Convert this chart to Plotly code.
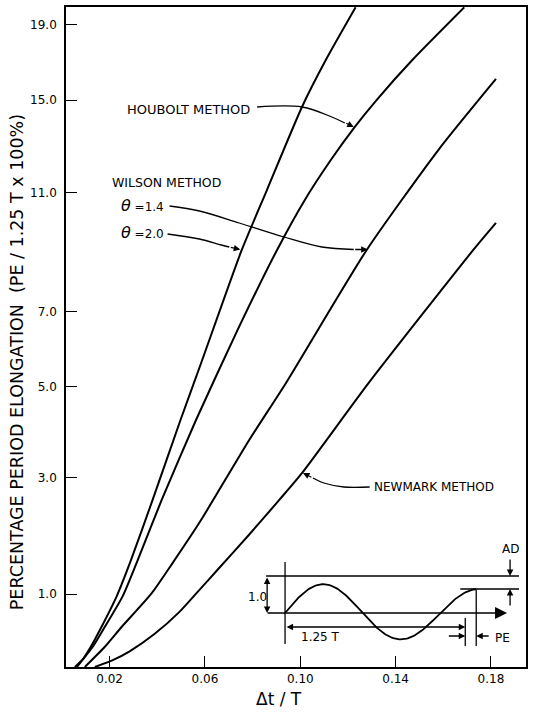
import numpy as np
import plotly.graph_objects as go

# ---------------- data ----------------
wilson20_x = [0.0054, 0.0088, 0.0121, 0.0163, 0.0230, 0.0288, 0.0380, 0.0497, 0.0581, 0.0754, 0.0860, 0.1007, 0.1107, 0.1232]
wilson20_pe = [0.00, 0.10, 0.26, 0.51, 0.97, 1.51, 2.57, 4.21, 5.54, 8.93, 11.11, 14.68, 17.03, 20.0]

houbolt_x = [0.0063, 0.0129, 0.0180, 0.0255, 0.0315, 0.0418, 0.0562, 0.0737, 0.0902, 0.1019, 0.1128, 0.1228, 0.1320, 0.1470, 0.1688]
houbolt_pe = [0.00, 0.26, 0.53, 0.97, 1.50, 2.57, 4.21, 6.48, 8.93, 10.73, 12.32, 13.75, 15.01, 17.03, 20.0]

wilson14_x = [0.0096, 0.0180, 0.0251, 0.0376, 0.0464, 0.0581, 0.0785, 0.0940, 0.1278, 0.1579, 0.1821]
wilson14_pe = [0.00, 0.26, 0.53, 1.01, 1.48, 2.19, 3.77, 5.09, 8.93, 12.74, 16.05]

newmark_x = [0.0138, 0.0209, 0.0284, 0.0388, 0.0493, 0.0576, 0.0652, 0.0785, 0.0911, 0.1007, 0.1287, 0.1725, 0.1821]
newmark_pe = [0.00, 0.08, 0.20, 0.43, 0.74, 1.06, 1.37, 1.95, 2.57, 3.09, 5.09, 8.93, 9.88]

ytick_vals = [1, 3, 5, 7, 11, 15, 19]
ytick_text = ["1.0", "3.0", "5.0", "7.0", "11.0", "15.0", "19.0"]
xtick_vals = [0.02, 0.06, 0.10, 0.14, 0.18]
xtick_text = ["0.02", "0.06", "0.10", "0.14", "0.18"]

# the printed ordinate is non-uniform: position ~ ln(PE + 5.3)
OFFSET = 5.3
def yt(v):
    return np.log(np.asarray(v, dtype=float) + OFFSET)

FONT = "DejaVu Sans"
W, H = 533, 714
L, R, T, B = 66, 5, 7, 47
PW, PH = W - L - R, H - T - B

def px(x):
    return (x - L) / PW

def py(y):
    return (H - B - y) / PH

fig = go.Figure()

for xs, ys in [(wilson20_x, wilson20_pe), (houbolt_x, houbolt_pe),
               (wilson14_x, wilson14_pe), (newmark_x, newmark_pe)]:
    fig.add_trace(go.Scatter(x=xs, y=yt(ys), mode="lines",
                             line=dict(color="black", width=2, shape="spline", smoothing=0.6),
                             showlegend=False, hoverinfo="skip"))

# ---------------- decorations on an overlay pixel-grid axis ----------------
def deco_line(pts, width=1.3, shape="linear"):
    xs = [p[0] for p in pts]
    ys = [p[1] for p in pts]
    fig.add_trace(go.Scatter(x=xs, y=ys, xaxis="x2", yaxis="y2", mode="lines",
                             line=dict(color="black", width=width, shape=shape),
                             showlegend=False, hoverinfo="skip"))

annotations = []

def arrow(tip, tail, head=2, size=1.0, width=1.3, side="end"):
    annotations.append(dict(x=tip[0], y=tip[1], ax=tail[0], ay=tail[1],
                            xref="x2", yref="y2", axref="x2", ayref="y2",
                            text="", showarrow=True, arrowhead=head, arrowsize=size,
                            arrowwidth=width, arrowcolor="black", arrowside=side,
                            standoff=0, startstandoff=0))

def label(text, x, y, size=12, xanchor="center", angle=0):
    annotations.append(dict(x=px(x), y=py(y), xref="paper", yref="paper", text=text,
                            showarrow=False, xanchor=xanchor, yanchor="middle",
                            textangle=angle, font=dict(family=FONT, size=size, color="black")))

# leaders
deco_line([(258, 107), (303, 107), (333, 117), (346, 123)], shape="spline")
arrow((355, 127), (346, 122.5), size=1.0)
deco_line([(170, 206), (200, 211), (240, 223), (285, 237), (323, 247), (355, 249.5)], shape="spline")
arrow((369, 249.5), (355, 249.5))
deco_line([(168, 234), (200, 239), (222, 245), (230, 247)], shape="spline")
arrow((241, 249.5), (230, 247))
deco_line([(371, 487), (345, 487), (325, 483), (314, 478)], shape="spline")
arrow((304, 473), (314, 478))

# inset schematic
deco_line([(286, 562), (286, 644)])
deco_line([(267, 576), (521, 576)])
deco_line([(462, 589), (521, 589)])
arrow((509, 613), (267, 613), head=2, size=1.6, width=1.5)
sx = np.linspace(286, 478, 160)
amp = 30 - 6 * (sx - 286) / 192
sy = 613 - amp * np.sin(2 * np.pi * (sx - 286) / 156)
fig.add_trace(go.Scatter(x=sx, y=sy, xaxis="x2", yaxis="y2", mode="lines",
                         line=dict(color="black", width=1.8), showlegend=False, hoverinfo="skip"))
arrow((268, 613), (268, 576), side="end+start")
arrow((467, 627), (286, 627), side="end+start")
deco_line([(467, 618), (467, 646)])
deco_line([(478, 590), (478, 646)])
arrow((467, 636), (449, 636))
arrow((478, 636), (492, 636))
arrow((512, 576), (512, 558))
arrow((512, 589), (512, 607))

# texts
label("HOUBOLT METHOD", 125, 110, 13, "left")
label("WILSON METHOD", 110, 182, 12.5, "left")
label("<span style='font-size:16px'><i>θ</i></span> =1.4", 119, 205, 12, "left")
label("<span style='font-size:16px'><i>θ</i></span> =2.0", 119, 232, 12, "left")
label("NEWMARK METHOD", 373, 487, 12, "left")
label("1.0", 258, 597, 12)
label("1.25 T", 322, 637, 12)
label("AD", 512, 549, 12)
label("PE", 504, 638, 12)
label("PERCENTAGE PERIOD ELONGATION  (PE / 1.25 T x 100%)", 17, 362, 17.5, angle=-90)
label("Δt / T", 280, 699, 17)

axis_common = dict(showline=True, linecolor="black", linewidth=1.6, mirror=True,
                   showgrid=False, zeroline=False, ticks="inside", ticklen=11,
                   tickwidth=1.3, tickcolor="black",
                   tickfont=dict(family=FONT, size=12, color="black"))

fig.update_layout(
    width=W, height=H,
    margin=dict(l=L, r=R, t=T, b=B),
    plot_bgcolor="white", paper_bgcolor="white",
    xaxis=dict(range=[0.0017, 0.1947], tickvals=xtick_vals, ticktext=xtick_text, **axis_common),
    yaxis=dict(range=[float(yt(0)), float(yt(20.02))], tickvals=list(yt(ytick_vals)),
               ticktext=ytick_text, ticklabelstandoff=5,
               **{**axis_common, "tickfont": dict(family=FONT, size=12, color="black")}),
    xaxis2=dict(overlaying="x", range=[L, W - R], visible=False),
    yaxis2=dict(overlaying="y", range=[H - B, T], visible=False),
    annotations=annotations,
    showlegend=False,
)

fig.write_html("out.html")
